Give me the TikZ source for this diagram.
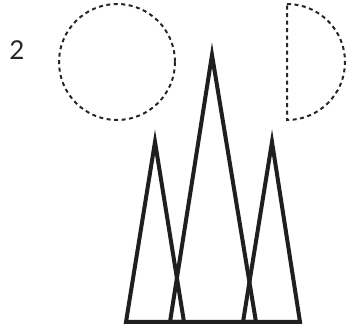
\documentclass[tikz,border=0pt]{standalone}
\usepackage{fontspec}
\setmainfont{Lato}
\tikzset{
  dotline/.style={line width=2pt, dash pattern=on 4pt off 3.5pt, color=black!85},
  spike/.style={line width=4pt, line join=miter, color=black!88}
}

\begin{document}
\begin{tikzpicture}[x=1pt, y=-1pt]
  \useasboundingbox (0,0) rectangle (346,326);

  % Label
  \node[font=\fontsize{26}{30}\selectfont, color=black!85] (num) at (17,50) {2};

  % Dashed circle and half circle
  \draw[dotline] (117,62) circle[radius=58];
  \draw[dotline] (287,4) arc[start angle=-90, end angle=90, radius=58] -- cycle;

  % Triangles
  \draw[spike] (126,322) -- (155,142) -- (184,322) -- cycle;
  \draw[spike] (170,322) -- (212,55) -- (256,322) -- cycle;
  \draw[spike] (243,322) -- (272,142) -- (300,322) -- cycle;
\end{tikzpicture}
\end{document}
